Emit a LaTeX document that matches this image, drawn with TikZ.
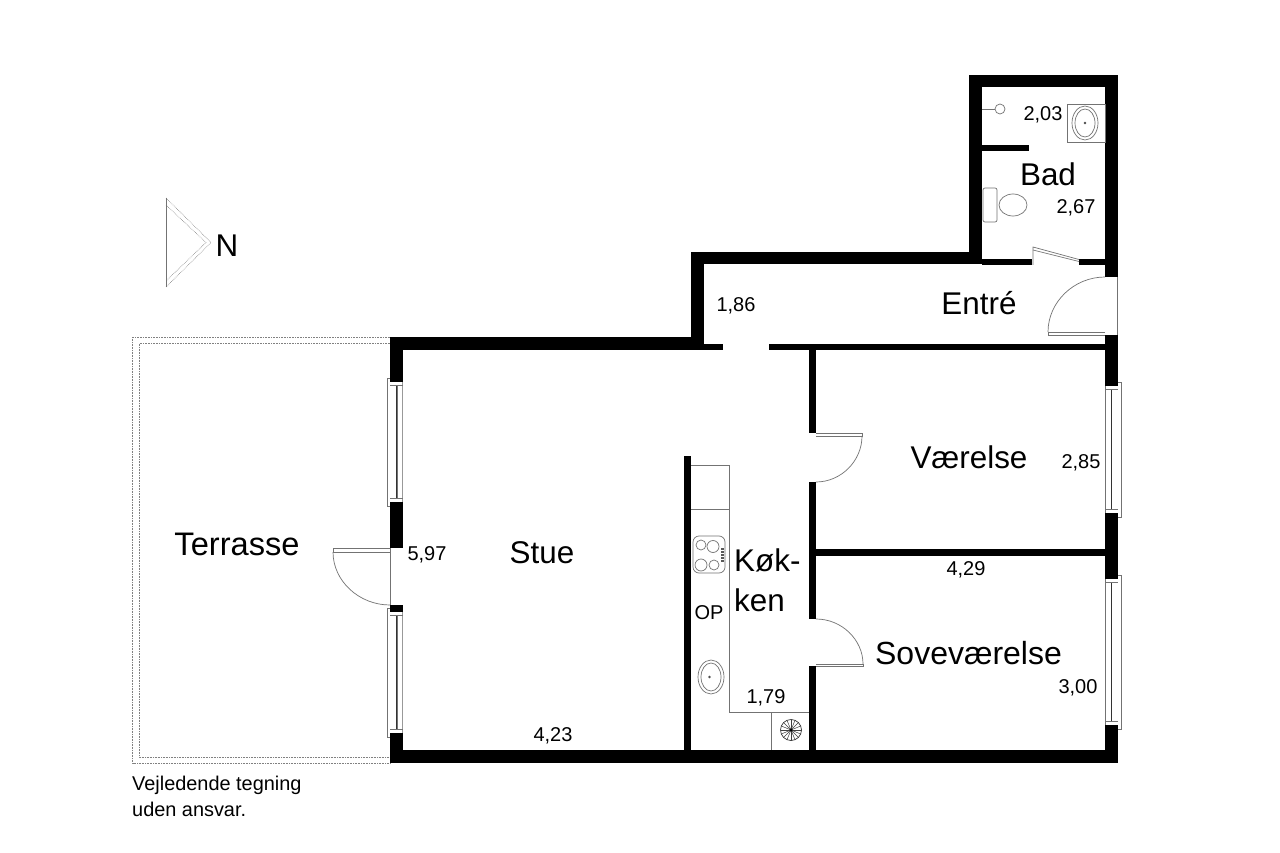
\documentclass[tikz,border=0pt]{standalone}
\usepackage{fontspec}
\setmainfont{Liberation Sans}
\tikzset{
  wall/.style={fill=black},
  thin line/.style={draw=black!55,line width=0.7pt},
  dark line/.style={draw=black!80,line width=0.7pt},
  pale line/.style={draw=black!40,line width=1pt},
  dot line/.style={draw=black!50,line width=0.6pt,densely dotted},
  room/.style={anchor=base,font=\fontsize{31.4}{31}\selectfont,inner sep=0pt},
  size/.style={anchor=base,font=\fontsize{20}{20}\selectfont,inner sep=0pt},
  note/.style={anchor=base west,font=\fontsize{19.9}{20}\selectfont,inner sep=0pt}
}
\begin{document}
\begin{tikzpicture}[x=1pt,y=-1pt]
\fill[white] (0,0) rectangle (1280,853);
\useasboundingbox (0,0) rectangle (1280,853);
% terrace
\draw[dot line] (390,337) -- (132.5,337) -- (132.5,763) -- (390,763);
\draw[dot line] (390,343.5) -- (139,343.5) -- (139,757) -- (390,757);
% north arrow
\draw[dot line] (166,198) -- (211,242.5) -- (166,287);
\draw[dot line] (166,205) -- (206,242.5) -- (166,281);
\draw[thin line] (166,198) -- (166,287);
% windows
\foreach \a/\b in {382/502,612/733}{
  \draw[thin line] (390,\a-4) -- (387,\a-4) -- (387,\b+4) -- (390,\b+4);
  \draw[pale line] (402.7,\a) -- (402.7,\b);
  \draw[dark line] (396,\a+3) -- (396,\b-4);
  \draw[thin line] (397.2,\a+3) -- (397.2,\b-4);
  \draw[thin line] (390,\a+3) -- (403,\a+3);
  \draw[thin line] (390,\b-4) -- (403,\b-4);
}
\foreach \a/\b in {386/513,579/725}{
  \draw[thin line] (1118,\a-4) -- (1121,\a-4) -- (1121,\b+4) -- (1118,\b+4);
  \draw[thin line] (1105.7,\a) -- (1105.7,\b);
  \draw[dark line] (1111.5,\a+3) -- (1111.5,\b-4);
  \draw[thin line] (1105,\a+3) -- (1118,\a+3);
  \draw[thin line] (1105,\b-4) -- (1118,\b-4);
}
% walls
\fill[wall] (969,75) rectangle (1118,87);
\fill[wall] (969,75) rectangle (982,264);
\fill[wall] (1105,75) rectangle (1118,277);
\fill[wall] (982,145) rectangle (1029,151);
\fill[wall] (982,259) rectangle (1032,265);
\fill[wall] (1079,259) rectangle (1105,265);
\fill[wall] (691,252) rectangle (982,264);
\fill[wall] (691,252) rectangle (704,350);
\fill[wall] (390,337) rectangle (704,350);
\fill[wall] (704,343.5) rectangle (723,350);
\fill[wall] (769,343.5) rectangle (1105,350);
\fill[wall] (1105,335) rectangle (1118,386);
\fill[wall] (1105,513) rectangle (1118,579);
\fill[wall] (1105,725) rectangle (1118,763);
\fill[wall] (390,337) rectangle (403,382);
\fill[wall] (390,502) rectangle (403,548);
\fill[wall] (390,605) rectangle (403,612);
\fill[wall] (390,733) rectangle (403,763);
\fill[wall] (390,750) rectangle (1118,763);
\fill[wall] (809,350) rectangle (816,433);
\fill[wall] (809,482) rectangle (816,619);
\fill[wall] (809,666) rectangle (816,750);
\fill[wall] (816,549) rectangle (1105,556);
\fill[wall] (684,456) rectangle (691,750);
% terrace door
\draw[thin line] (390,548) -- (333,548) -- (333,552) -- (390,552);
\draw[thin line] (390,548) -- (390,605);
\draw[thin line] (333,552) .. controls (333,581) and (359,605) .. (390,605);
% entry door
\draw[thin line] (1105,335) -- (1048,335) -- (1048,332) -- (1105,332);
\draw[thin line] (1117.5,277) -- (1117.5,335);
\draw[thin line] (1048,332) .. controls (1048,302) and (1074,277) .. (1105,277);
% bath door
\draw[thin line] (1033,265) -- (1033,247) -- (1079,259.5);
\draw[thin line] (1033,250) -- (1079,261.5);
% room doors
\draw[thin line] (816,433) -- (862,433) -- (862,436) -- (816,436);
\draw[thin line] (862,436) .. controls (862,461) and (841,482) .. (816,482);
\draw[thin line] (816,664) -- (863,664) -- (863,666) -- (816,666);
\draw[thin line] (816,619) .. controls (842,619) and (863,640) .. (863,664);
% bathroom fixtures
\draw[thin line] (982,109) -- (995,109);
\draw[thin line] (1000,109) circle [radius=5pt];
\draw[thin line] (1067,104) rectangle (1105,142);
\draw[thin line] (1085,123) ellipse [x radius=13pt,y radius=17pt];
\draw[thin line] (1085,123) ellipse [x radius=10pt,y radius=14pt];
\fill[black!70] (1085,123) circle [radius=1.3pt];
\draw[thin line,rounded corners=2pt] (983,188) rectangle (997,222);
\draw[thin line] (1013,205) ellipse [x radius=14pt,y radius=11pt];
% kitchen
\draw[thin line] (691,465) -- (729,465) -- (729,712) -- (809,712);
\draw[thin line] (691,509) -- (729,509);
\draw[thin line] (771,712) -- (771,750);
\draw[thin line,rounded corners=6pt] (693,536) rectangle (725,573);
\draw[thin line] (701,545) circle [radius=5pt];
\draw[thin line] (713,546.5) circle [radius=6pt];
\draw[thin line] (701,565) circle [radius=6pt];
\draw[thin line] (714,565) circle [radius=5pt];
\foreach \k in {548,551,554,557,560}{\fill[black!65] (721,\k) rectangle (724,\k+1.7);}
\draw[thin line] (711,677) ellipse [x radius=13pt,y radius=17pt];
\draw[thin line] (711,677) ellipse [x radius=10pt,y radius=14pt];
\fill[black!70] (709.5,677) circle [radius=1.3pt];
\draw[dark line] (791,730) circle [radius=10.5pt];
\foreach \k in {0,22.5,...,337.5}{\draw[black!75,line width=0.5pt] (791,730) -- ++(\k:10.5pt);}
\fill[black] (791,730) circle [radius=1.5pt];
% labels
\node[room] (bad) at (1048,186) {Bad};
\node[room] (entre) at (979,314) {Entré};
\node[room] (vaer) at (969,468) {Værelse};
\node[room] (stue) at (542,563) {Stue};
\node[room,font=\fontsize{32.6}{32}\selectfont] (terr) at (237,555) {Terrasse};
\node[room] (nord) at (227,257) {N};
\node[room,anchor=base west] (kok) at (734,571) {Køk-};
\node[room,anchor=base west] (ken) at (734,611) {ken};
\node[room,font=\fontsize{32}{32}\selectfont] (sove) at (968.5,664) {Soveværelse};
\node[size] (m1) at (736,311) {1,86};
\node[size] (m2) at (1043,121) {2,03};
\node[size] (m3) at (1076,214) {2,67};
\node[size] (m4) at (1081,468) {2,85};
\node[size] (m5) at (966,575) {4,29};
\node[size] (m6) at (1078,693) {3,00};
\node[size] (m7) at (427,560) {5,97};
\node[size] (m8) at (553,741) {4,23};
\node[size] (m9) at (766,703) {1,79};
\node[size] (op) at (709,619) {OP};
\node[note] (n1) at (132,790) {Vejledende tegning};
\node[note] (n2) at (132,816) {uden ansvar.};
\end{tikzpicture}
\end{document}
